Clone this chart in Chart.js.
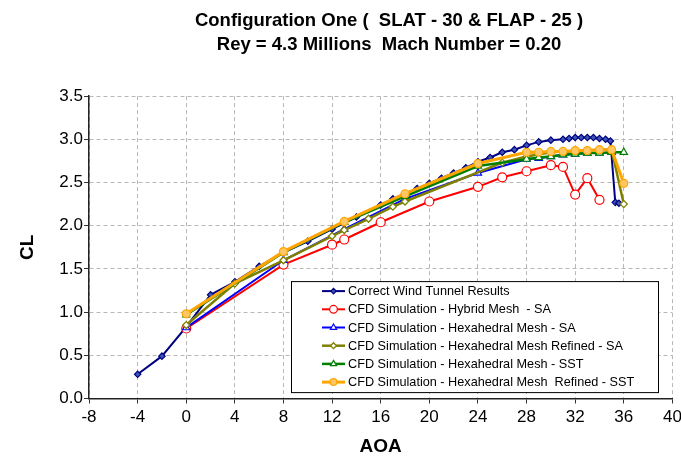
<!DOCTYPE html>
<html><head><meta charset="utf-8">
<script src="https://cdn.jsdelivr.net/npm/chart.js@4/dist/chart.umd.min.js"></script>
<style>html,body{margin:0;padding:0;background:#fff;overflow:hidden}#wrap{width:700px;height:460px;position:relative}</style>
</head><body><div id="wrap"><canvas id="c" width="700" height="460"></canvas></div>
<script>
// ---- data ----
const titleLines = ['Configuration One (  SLAT - 30 & FLAP - 25 )', 'Rey = 4.3 Millions  Mach Number = 0.20'];
const xTitle = 'AOA';
const yTitle = 'CL';
const seriesNames = [
  'Correct Wind Tunnel Results',
  'CFD Simulation - Hybrid Mesh  - SA',
  'CFD Simulation - Hexahedral Mesh - SA',
  'CFD Simulation - Hexahedral Mesh Refined - SA',
  'CFD Simulation - Hexahedral Mesh - SST',
  'CFD Simulation - Hexahedral Mesh  Refined - SST'
];
const windAoa = [-4,-2,0,2,4,6,8,10,12,14,16,17,18,19,20,21,22,23,24,25,26,27,28,29,30,31,31.5,32,32.5,33,33.5,34,34.5,34.9,35.3,35.6];
const windCl  = [0.28,0.49,0.83,1.20,1.35,1.53,1.69,1.82,1.96,2.10,2.24,2.31,2.37,2.43,2.49,2.55,2.61,2.67,2.74,2.79,2.85,2.88,2.93,2.97,2.99,3.00,3.01,3.02,3.02,3.02,3.02,3.01,3.00,2.98,2.27,2.26];
const hybSaAoa = [0,8,12,13,16,20,24,26,28,30,31,32,33,34];
const hybSaCl  = [0.81,1.55,1.78,1.84,2.04,2.28,2.45,2.56,2.63,2.70,2.68,2.36,2.55,2.30];
const hexSaAoa = [0,8,13,18,24,28,29,30,31,32,33,34,35];
const hexSaCl  = [0.82,1.60,1.96,2.31,2.61,2.77,2.78,2.80,2.82,2.83,2.84,2.84,2.85];
const hexRefSaAoa = [0,4,8,12,13,15,17,18,26,28,30,31,32,33,34,35,36];
const hexRefSaCl  = [0.85,1.33,1.60,1.88,1.95,2.08,2.22,2.28,2.73,2.80,2.85,2.86,2.86,2.87,2.88,2.88,2.25];
const hexSstAoa = [0,8,13,18,24,28,29,30,31,32,33,34,35,36];
const hexSstCl  = [0.97,1.69,2.04,2.34,2.69,2.77,2.79,2.80,2.82,2.83,2.84,2.84,2.85,2.85];
const hexRefSstAoa = [0,8,13,18,24,28,29,30,31,32,33,34,35,36];
const hexRefSstCl  = [0.98,1.70,2.05,2.37,2.72,2.85,2.85,2.86,2.86,2.87,2.87,2.88,2.88,2.49];
const xMin = -8, xMax = 40, xStep = 4;
const yMin = 0, yMax = 3.5, yStep = 0.5;

const pts = (xs, ys) => xs.map((x, i) => ({x: x, y: ys[i]}));
const FONT = "'Liberation Sans', Arial, sans-serif";

const styles = [
  {c:'#000080', w:2,   ps:'rectRot',  r:3.2, bg:'#3a55b5', bw:1.2, order:5},
  {c:'#ff0000', w:2,   ps:'circle',   r:4.5, bg:'#ffffff', bw:1.2, order:4},
  {c:'#0000ff', w:2,   ps:'triangle', r:4.2, bg:'#ffffff', bw:1.2, order:3},
  {c:'#808000', w:2.5, ps:'rectRot',  r:3.5, bg:'#ffffff', bw:1.3, order:2},
  {c:'#008000', w:2.5, ps:'triangle', r:4.2, bg:'#ffffff', bw:1.2, order:1},
  {c:'#ffa500', w:3,   ps:'circle',   r:4,   bg:'#ffc766', bw:1.2, order:0}
];
const seriesData = [
  pts(windAoa, windCl), pts(hybSaAoa, hybSaCl), pts(hexSaAoa, hexSaCl),
  pts(hexRefSaAoa, hexRefSaCl), pts(hexSstAoa, hexSstCl), pts(hexRefSstAoa, hexRefSstCl)
];
const datasets = seriesData.map((d, i) => ({
  label: seriesNames[i], data: d, showLine: true,
  borderColor: styles[i].c, borderWidth: styles[i].w,
  pointStyle: styles[i].ps, pointRadius: styles[i].r,
  pointBackgroundColor: styles[i].bg, pointBorderColor: styles[i].c,
  pointBorderWidth: styles[i].bw, order: styles[i].order, tension: 0
}));

const titleShift = {
  id: 'titleShift',
  afterLayout(chart) {
    const t = chart.titleBlock;
    if (!t) return;
    const shift = 389 - (t.left + t.right) / 2;
    t.left += shift; t.right += shift;
  }
};

const boxLegend = {
  id: 'boxLegend',
  afterDraw(chart) {
    const {ctx, chartArea} = chart;
    const x0 = chartArea.left + 202, y0 = chartArea.top + 185, w = 367, h = 111;
    ctx.save();
    ctx.fillStyle = '#fff';
    ctx.fillRect(x0, y0, w, h);
    ctx.strokeStyle = '#000'; ctx.lineWidth = 1;
    ctx.strokeRect(x0 + 0.5, y0 + 0.5, w, h);
    chart.data.datasets.forEach((ds, i) => {
      const y = y0 + 10 + i * 18.2;
      ctx.setLineDash([]);
      ctx.strokeStyle = ds.borderColor; ctx.lineWidth = ds.borderWidth;
      ctx.beginPath(); ctx.moveTo(x0 + 31, y); ctx.lineTo(x0 + 54, y); ctx.stroke();
      ctx.fillStyle = ds.pointBackgroundColor; ctx.strokeStyle = ds.pointBorderColor;
      ctx.lineWidth = ds.pointBorderWidth;
      Chart.helpers.drawPoint(ctx, {pointStyle: ds.pointStyle, radius: ds.pointRadius * 0.85, rotation: 0, borderWidth: ds.pointBorderWidth}, x0 + 42.5, y);
      ctx.fillStyle = '#000';
      ctx.font = '12.7px ' + FONT;
      ctx.textBaseline = 'middle'; ctx.textAlign = 'left';
      ctx.fillText(ds.label, x0 + 57, y + 0.5);
    });
    ctx.restore();
  }
};

new Chart(document.getElementById('c'), {
  type: 'scatter',
  data: {datasets: datasets},
  plugins: [titleShift, boxLegend],
  options: {
    responsive: false, animation: false, devicePixelRatio: 1,
    layout: {padding: {left: 0, right: 27.6, top: 0, bottom: 0}},
    plugins: {
      legend: {display: false}, tooltip: {enabled: false},
      title: {display: true, text: titleLines, color: '#000',
        font: {family: FONT, size: 18.5, weight: 'bold', lineHeight: 1.3},
        padding: {top: 9, bottom: 39}}
    },
    scales: {
      x: {
        type: 'linear', min: xMin, max: xMax,
        ticks: {stepSize: xStep, color: '#000', font: {family: FONT, size: 17}, padding: 4, maxRotation: 0},
        grid: {color: '#b8b8b8', lineWidth: 1, tickColor: '#333', tickLength: 5, tickWidth: 1},
        border: {display: true, color: '#222', width: 1.5, dash: [4, 3]},
        title: {display: true, text: xTitle, color: '#000', font: {family: FONT, size: 19, weight: 'bold'}, padding: {top: 0, bottom: 1.6}},
        afterFit: s => { s.height = 61.5; }
      },
      y: {
        type: 'linear', min: yMin, max: yMax,
        ticks: {stepSize: yStep, color: '#000', font: {family: FONT, size: 17}, padding: 1,
          callback: v => Number(v).toFixed(1)},
        grid: {color: '#b8b8b8', lineWidth: 1, tickColor: '#333', tickLength: 5, tickWidth: 1},
        border: {display: true, color: '#222', width: 1.5, dash: [4, 3]},
        title: {display: true, text: yTitle, color: '#000', font: {family: FONT, size: 19, weight: 'bold'}, padding: {top: 16.6, bottom: 0}},
        afterFit: s => { s.width = 89; }
      }
    }
  }
});
</script></body></html>
